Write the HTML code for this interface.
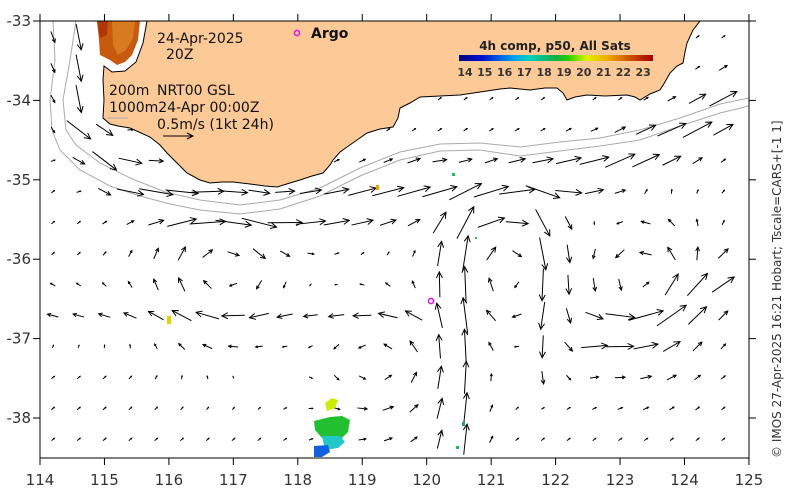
<!DOCTYPE html>
<html><head><meta charset="utf-8">
<style>
html,body{margin:0;padding:0;background:#fff;}
svg{display:block;font-family:"DejaVu Sans","Liberation Sans",sans-serif;}
</style></head>
<body>
<svg id="chart" width="791" height="492" viewBox="0 0 791 492" xmlns="http://www.w3.org/2000/svg">
<defs>
<linearGradient id="jet" x1="0" x2="1" y1="0" y2="0">
<stop offset="0" stop-color="#000080"/><stop offset="0.12" stop-color="#0010d0"/>
<stop offset="0.28" stop-color="#00a0f0"/><stop offset="0.36" stop-color="#00d0c0"/>
<stop offset="0.5" stop-color="#10b040"/><stop offset="0.56" stop-color="#20d000"/>
<stop offset="0.66" stop-color="#e0f000"/><stop offset="0.76" stop-color="#f0b000"/>
<stop offset="0.88" stop-color="#d05000"/><stop offset="1" stop-color="#a00000"/>
</linearGradient>
<clipPath id="plotclip"><rect x="40" y="21" width="709" height="437"/></clipPath>
</defs>
<g clip-path="url(#plotclip)">
<polygon id="landpoly" fill="#fdc996" stroke="#000" stroke-width="1"
points="147,21 143,43 136,62 125,71 112,72 104,66 103,80 104,100 103,118 110,124 118,126 130,128 150,137 160,145 167,153 177,163 187,173 200,180 210,183 222,182 233,182 250,184 265,186 277,187 290,183 300,180 312,176 323,173 330,165 333,160 340,152 347,147 357,140 367,133 380,129 393,127 398,118 400,108 410,103 420,97 440,96 460,95 480,92 500,89 510,88 530,90 545,88 557,88 563,93 567,100 575,97 587,95 605,96 627,95 635,97 640,100 650,94 660,90 665,82 670,73 677,66 683,63 685,52 687,43 693,30 700,21"/>
<g>
<polygon points="97,21 140,21 138,40 132,55 125,62 117,65 110,60 100,55 99,40" fill="#c85a10"/>
<polygon points="112,21 135,21 133,38 126,50 118,55 113,45" fill="#d77a20"/>
<polygon points="97,21 108,21 107,35 100,38" fill="#b03808"/>
</g>
<polyline fill="none" stroke="#aaa" stroke-width="1" points="53,21 55,60 50,100 52,130 60,150 80,170 110,186 140,196 170,204 200,210 240,214 280,209 320,196 360,176 400,160 440,151 480,150 520,156 560,151 600,146 640,140 680,126 720,113 749,106"/>
<polyline fill="none" stroke="#aaa" stroke-width="1" points="76,21 70,60 63,100 66,130 76,145 100,163 130,178 165,192 200,200 240,205 280,200 320,188 360,168 400,152 440,144 480,143 520,147 560,142 600,138 640,130 680,118 720,104 749,98"/>
<g id="arrowgroup"></g>
<g>
<polygon points="325,403 332,398 338,400 335,408 327,411" fill="#ccee00"/>
<polygon points="314,421 330,417 342,416 350,420 348,432 340,440 322,438 315,430" fill="#22c030"/>
<polygon points="322,436 340,436 345,442 338,448 325,450" fill="#22c8c8"/>
<polygon points="314,446 328,445 330,452 322,457 314,457" fill="#1060e0"/>
<rect x="167" y="316" width="4" height="8" fill="#e8d000"/>
<rect x="376" y="185" width="3" height="5" fill="#f0a000"/>
<rect x="452" y="173" width="3" height="3" fill="#20c060"/>
<rect x="475" y="237" width="2" height="2" fill="#20c060"/>
<rect x="462" y="422" width="3" height="4" fill="#20a080"/>
<rect x="456" y="446" width="3" height="3" fill="#20c060"/>
</g>
</g>
<rect x="40" y="21" width="709" height="437" fill="none" stroke="#000" stroke-width="1"/>
<g id="axisgroup" font-size="15" fill="#333"></g>
<g font-size="14" fill="#111">
<text x="157" y="43">24-Apr-2025</text>
<text x="166" y="59">20Z</text>
<text x="109" y="95">200m</text>
<text x="157" y="95">NRT00 GSL</text>
<text x="109" y="112">1000m24-Apr 00:00Z</text>
<text x="157" y="129">0.5m/s (1kt 24h)</text>
<line x1="107" y1="118" x2="128" y2="118" stroke="#aab" stroke-width="1"/>
<line x1="163" y1="136" x2="193" y2="136" stroke="#000"/>
<polyline points="187,133 193,136 187,139" fill="none" stroke="#000"/>
</g>
<g>
<circle cx="297" cy="33" r="2.6" fill="none" stroke="#e020e0" stroke-width="1.6"/>
<text x="311" y="38" font-size="14" font-weight="bold" fill="#111">Argo</text>
</g>
<circle cx="431" cy="301" r="2.6" fill="none" stroke="#e020e0" stroke-width="1.6"/>
<g>
<text x="555" y="50" font-size="12" font-weight="bold" text-anchor="middle" fill="#222">4h comp, p50, All Sats</text>
<rect x="459" y="55" width="194" height="6" fill="url(#jet)"/>
<g id="cbtickgroup" font-size="11" font-weight="bold" fill="#333" text-anchor="middle"></g>
</g>
<text transform="translate(781,458) rotate(-90)" font-size="12" fill="#333">© IMOS 27-Apr-2025 16:21 Hobart; Tscale=CARS+[-1 1]</text>
</svg>
<script>
var lonTicks=[114,115,116,117,118,119,120,121,122,123,124,125];
var latTicks=[-33,-34,-35,-36,-37,-38];
var cbLabels=[14,15,16,17,18,19,20,21,22,23];
var eddyLon=[121.2,123.4,116.8,119.3];
var eddyLat=[-36.1,-36.4,-36.1,-37.3];
var eddyRadius=[0.8,0.8,0.9,0.8];
var eddySpin=[0.5,-0.6,0.45,-0.3];
var currentLon=[114.5,114.6,115.2,116.2,117.5,119,120,121,122,123,124,125];
var currentLat=[-33,-34.3,-34.9,-35.3,-35.5,-35.3,-35.1,-35.2,-35.0,-34.8,-34.4,-33.9];
var currentSpeed=0.5;
var jetStartLon=[120.5,121.9,119.8,122.6];
var jetStartLat=[-38.6,-35.3,-36.8,-37.0];
var jetEndLon=[120.5,121.9,114.0,124.8];
var jetEndLat=[-35.4,-37.3,-36.6,-36.2];
var jetSpeed=[0.5,0.4,0.25,0.35];
var jetWidth=[0.35,0.3,0.35,0.35];
var backgroundU=0.05, backgroundV=0.04;
(function(){
var SVGNS='http://www.w3.org/2000/svg';
function px(lon){return 40+(lon-114)*64.45;}
function py(lat){return 21+(-33-lat)*79.4;}
function mkEl(tag,attrs,parent){var e=document.createElementNS(SVGNS,tag);for(var k in attrs)e.setAttribute(k,attrs[k]);parent.appendChild(e);return e;}
var axg=document.getElementById('axisgroup');
lonTicks.forEach(function(v){
  var x=px(v);
  var t1=mkEl('line',{x1:x,y1:458,x2:x,y2:465,stroke:'#000'},axg);
  
  
  var t2=mkEl('line',{x1:x,y1:14,x2:x,y2:21,stroke:'#000'},axg);
  
  
  var tx=mkEl('text',{x:x,y:485,'text-anchor':'middle'},axg);tx.textContent=String(v);
  
  
});
latTicks.forEach(function(v){
  var y=py(v);
  var t1=mkEl('line',{x1:33,y1:y,x2:40,y2:y,stroke:'#000'},axg);
  
  
  var t2=mkEl('line',{x1:749,y1:y,x2:756,y2:y,stroke:'#000'},axg);
  
  
  var tx=mkEl('text',{x:31,y:y+5,'text-anchor':'end'},axg);tx.textContent=String(v);
  
  
});
var cbg=document.getElementById('cbtickgroup');
cbLabels.forEach(function(v,i){
  var tx=mkEl('text',{x:465+i*19.8,y:76},cbg);tx.textContent=String(v);
  
  
});
var landEl=document.getElementById('landpoly');
var arg=document.getElementById('arrowgroup');
function onLand(x,y){
  try{
    var p=document.getElementById('chart').createSVGPoint();p.x=x;p.y=y;
    return landEl.isPointInFill(p);
  }catch(e){return false;}
}
function segInfo(lon,lat,ax,ay,bx,by){
  var sx=bx-ax,sy=by-ay,L2=sx*sx+sy*sy;
  var t=((lon-ax)*sx+(-lat-ay)*sy)/L2;t=Math.max(0,Math.min(1,t));
  var qx=ax+t*sx,qy=ay+t*sy,L=Math.sqrt(L2);
  return [Math.hypot(lon-qx,-lat-qy),sx/L,sy/L];
}
function field(lon,lat){
  var u=backgroundU,v=-backgroundV,i,s;
  for(i=0;i<eddyLon.length;i++){
    var dx=lon-eddyLon[i],dy=-(lat-eddyLat[i]),R=eddyRadius[i];
    var r2=(dx*dx+dy*dy)/(R*R),f=eddySpin[i]*Math.exp(-r2)/R;
    u+=-dy*f; v+=dx*f;
  }
  var best=1e9,bu=0,bv=0;
  for(i=0;i<currentLon.length-1;i++){
    s=segInfo(lon,lat,currentLon[i],-currentLat[i],currentLon[i+1],-currentLat[i+1]);
    if(s[0]<best){best=s[0];bu=s[1];bv=s[2];}
  }
  var w=Math.exp(-Math.pow(best/0.35,2))*currentSpeed;
  u+=bu*w;v+=bv*w;
  for(i=0;i<jetStartLon.length;i++){
    s=segInfo(lon,lat,jetStartLon[i],-jetStartLat[i],jetEndLon[i],-jetEndLat[i]);
    var wj=Math.exp(-Math.pow(s[0]/jetWidth[i],2))*jetSpeed[i];
    u+=s[1]*wj;v+=s[2]*wj;
  }
  return [u,v];
}
for(var lat=-33.2;lat>=-38.45;lat-=0.39){
  for(var lon=114.2;lon<=124.8;lon+=0.4){
    var x=px(lon),y=py(lat);
    if(onLand(x,y))continue;
    if(x<145&&y<75&&x>95)continue;
    var uv=field(lon,lat);
    var dx=uv[0]*60,dy=uv[1]*60,L=Math.hypot(dx,dy);
    if(L>36){dx*=36/L;dy*=36/L;L=36;}
    if(L<2)continue;
    var x1=x-dx/2,y1=y-dy/2,x2=x+dx/2,y2=y+dy/2;
    var g=mkEl('g',{},arg);
    
    
    mkEl('line',{x1:x1,y1:y1,x2:x2,y2:y2,stroke:'#000','stroke-width':1},g);
    var h=Math.min(6,L*0.3),ux=dx/L,uy=dy/L;
    mkEl('polyline',{points:(x2-h*ux-h*0.5*uy)+','+(y2-h*uy+h*0.5*ux)+' '+x2+','+y2+' '+(x2-h*ux+h*0.5*uy)+','+(y2-h*uy-h*0.5*ux),fill:'none',stroke:'#000','stroke-width':1},g);
  }
}
})();
</script>
</body></html>
